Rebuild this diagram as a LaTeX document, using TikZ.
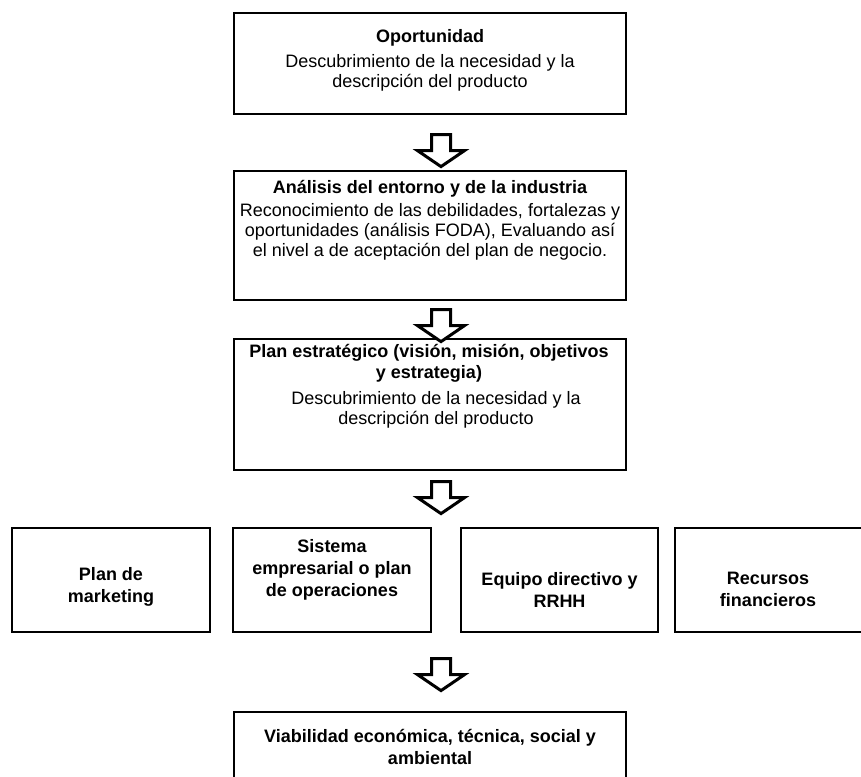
\documentclass[tikz,border=0pt]{standalone}
\usepackage{fontspec}
\setmainfont{Liberation Sans}
\usetikzlibrary{calc}
\tikzset{
  box/.style={draw, line width=2.2pt, rectangle, inner sep=0pt},
  txt/.style={align=center, inner sep=0pt, font=\fontsize{18}{20}\selectfont},
  btxt/.style={align=center, inner sep=0pt, font=\fontsize{18}{21}\selectfont\bfseries},
  rtxt/.style={align=center, inner sep=0pt, font=\fontsize{18}{22}\selectfont\bfseries},
  barrow/.style={draw, line width=3pt, fill=white, miter limit=10},
}
\newcommand\blockarrow[1]{\draw[barrow] (#1) ++(-9.5,0) -- ++(19,0) -- ++(0,16) -- ++(14,0) -- ++(-23.5,16) -- ++(-23.5,-16) -- ++(14,0) -- cycle;}
\begin{document}
\begin{tikzpicture}[x=1pt,y=-1pt]
\useasboundingbox (0,0) rectangle (861,776);
\clip (0,0) rectangle (861,776);
% main boxes
\node[box, minimum width=392pt, minimum height=101pt] (b1) at (430,63.5) {};
\node[box, minimum width=392pt, minimum height=129pt] (b2) at (430,235.5) {};
\node[box, minimum width=392pt, minimum height=131pt] (b3) at (430,404.5) {};
\node[box, minimum width=198pt, minimum height=104pt] (r1) at (111,580) {};
\node[box, minimum width=198pt, minimum height=104pt] (r2) at (332,580) {};
\node[box, minimum width=197pt, minimum height=104pt] (r3) at (559.5,580) {};
\node[box, minimum width=191pt, minimum height=104pt] (r4) at (770.5,580) {};
\node[box, minimum width=392pt, minimum height=98pt] (b5) at (430,761) {};
% texts
\node[btxt] (t1) at (430,38) {Oportunidad};
\node[txt] (d1) at (430,73) {Descubrimiento de la necesidad y la\\descripción del producto};
\node[btxt] (t2) at (430,189) {Análisis del entorno y de la industria};
\node[txt] (d2) at (430,232) {Reconocimiento de las debilidades, fortalezas y\\oportunidades (análisis FODA), Evaluando así\\el nivel a de aceptación del plan de negocio.};
\node[btxt] (t3) at (429,363) {Plan estratégico (visión, misión, objetivos\\y estrategia)};
\node[txt] (d3) at (436,410) {Descubrimiento de la necesidad y la\\descripción del producto};
\node[rtxt] (q1) at (111,587) {Plan de\\marketing};
\node[rtxt] (q2) at (332,570) {Sistema\\empresarial o plan\\de operaciones};
\node[rtxt] (q3) at (559.5,590) {Equipo directivo y\\RRHH};
\node[rtxt] (q4) at (768,589) {Recursos\\financieros};
\node[rtxt] (t5) at (430,747) {Viabilidad económica, técnica, social y\\ambiental};
% block arrows between boxes
\coordinate (a1) at ($(b1.south)+(11,19.5)$);
\coordinate (a2) at ($(b2.south)+(11,8.5)$);
\coordinate (a3) at ($(b3.south)+(11,10.5)$);
\coordinate (a4) at ($(r2.south east)!0.5!(r3.south west)+(-5,25.5)$);
\blockarrow{a1}
\blockarrow{a2}
\blockarrow{a3}
\blockarrow{a4}
\end{tikzpicture}
\end{document}
